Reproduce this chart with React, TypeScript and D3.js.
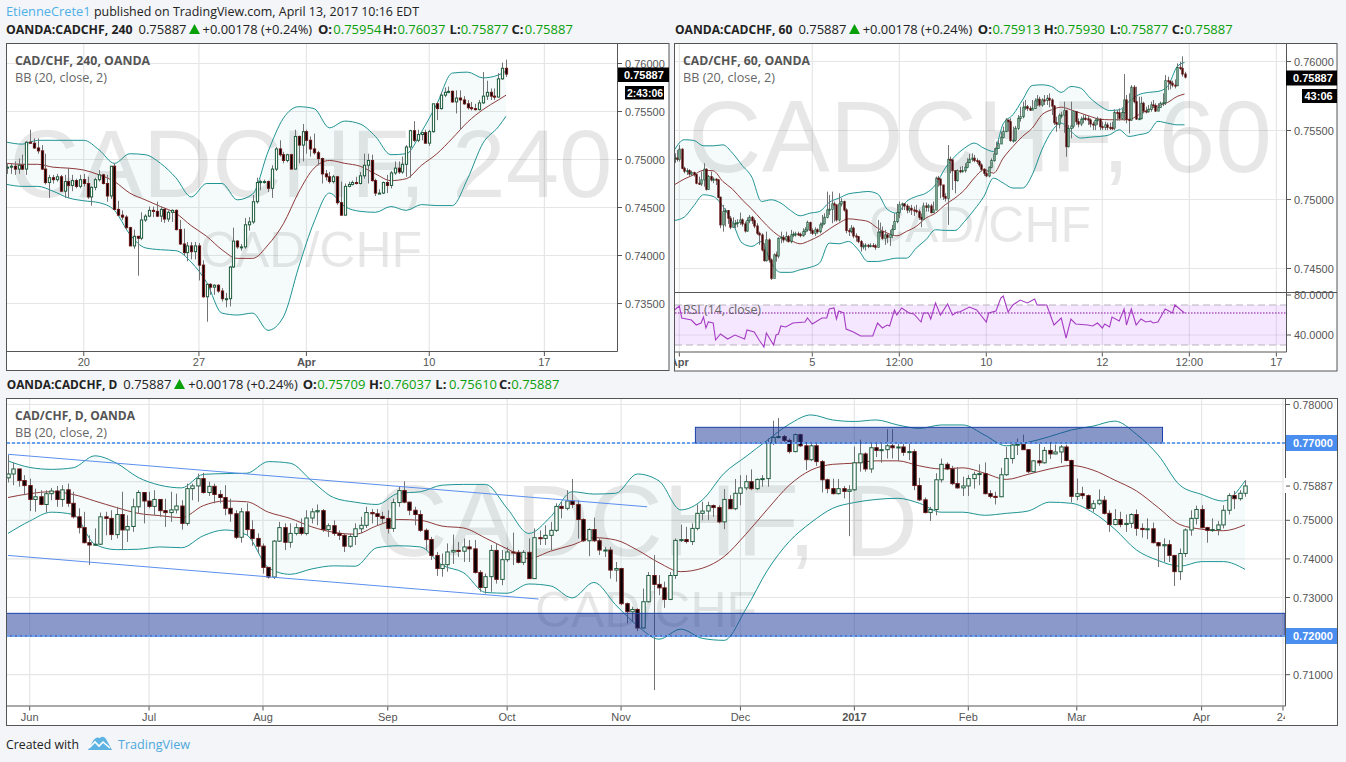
import * as d3 from "d3";

// ---- 240 minute chart, prices in 1e-4
const aOpenFirst = 7491;
const aClose = [7492,7493,7490,7494,7490,7518,7517,7512,7509,7490,7476,7481,7479,7482,7467,7477,7473,7478,7472,7479,7475,7461,7471,7479,7484,7475,7462,7493,7448,7442,7440,7429,7410,7420,7418,7437,7441,7447,7446,7441,7448,7438,7445,7447,7427,7412,7403,7410,7404,7410,7390,7357,7370,7367,7369,7363,7355,7355,7388,7415,7409,7409,7432,7435,7456,7476,7477,7477,7470,7490,7511,7505,7499,7505,7490,7524,7515,7529,7520,7511,7507,7501,7485,7482,7477,7482,7455,7442,7472,7474,7476,7475,7483,7494,7499,7478,7465,7465,7476,7473,7486,7491,7487,7495,7513,7530,7520,7526,7528,7517,7529,7558,7553,7567,7570,7571,7560,7564,7562,7558,7554,7553,7552,7559,7566,7570,7566,7565,7584,7595,7589];
const aHigh = [7496,7496,7498,7501,7505,7519,7531,7522,7522,7515,7506,7484,7484,7485,7484,7484,7491,7484,7480,7484,7485,7482,7472,7481,7489,7485,7484,7493,7496,7457,7447,7442,7430,7427,7420,7445,7443,7451,7451,7456,7451,7450,7447,7448,7448,7437,7428,7414,7414,7414,7413,7395,7370,7371,7370,7370,7366,7361,7389,7429,7416,7412,7439,7440,7463,7481,7479,7479,7478,7494,7513,7520,7508,7506,7506,7531,7525,7537,7531,7524,7527,7509,7502,7489,7487,7484,7483,7477,7475,7477,7478,7482,7487,7506,7506,7505,7480,7469,7477,7484,7488,7498,7498,7503,7515,7531,7540,7531,7529,7531,7531,7558,7560,7570,7575,7576,7572,7572,7572,7566,7562,7560,7558,7562,7591,7582,7574,7574,7590,7601,7604];
const aLow = [7485,7485,7484,7485,7489,7484,7517,7511,7506,7489,7474,7460,7475,7477,7466,7460,7460,7467,7470,7470,7472,7459,7452,7468,7477,7474,7456,7459,7447,7441,7437,7427,7410,7407,7379,7416,7435,7440,7440,7440,7435,7434,7435,7435,7426,7411,7400,7394,7396,7396,7374,7356,7331,7359,7359,7361,7352,7346,7347,7387,7407,7405,7407,7426,7433,7454,7468,7475,7466,7460,7488,7503,7496,7497,7490,7490,7496,7498,7506,7503,7505,7494,7475,7478,7475,7475,7453,7442,7442,7471,7473,7474,7474,7480,7475,7477,7462,7464,7464,7465,7470,7484,7485,7485,7482,7481,7518,7518,7520,7517,7514,7528,7541,7552,7565,7569,7559,7548,7531,7557,7552,7551,7551,7551,7558,7562,7562,7562,7565,7583,7586];
const aUpper = [7518,7516,7520,7520,7520,7520,7510,7496,7506,7505,7496,7481,7461,7475,7475,7458,7464,7508,7543,7555,7553,7533,7540,7537,7524,7505,7506,7529,7558,7590,7591,7585,7588,7592];
const aMid = [7496,7495,7495,7492,7491,7489,7484,7477,7465,7458,7451,7444,7431,7420,7406,7397,7397,7411,7433,7466,7491,7499,7496,7493,7485,7478,7480,7494,7506,7522,7539,7552,7562,7567];
const aLower = [7474,7472,7472,7467,7460,7457,7455,7447,7422,7408,7406,7405,7393,7372,7340,7338,7340,7322,7336,7388,7435,7465,7451,7446,7445,7451,7447,7453,7452,7452,7480,7517,7534,7545];
const aBandIdx = [...d3.range(0, 130, 4), 130];
const aTimeIdx = [20, 50, 78, 110, 140];
const aTimeLabels = ["20", "27", "Apr", "10", "17"];
const aPriceTicks = [0.76, 0.755, 0.75, 0.745, 0.74, 0.735];

// ---- 60 minute chart, prices in 1e-5
const bOpenFirst = 75299;
const bClose = [75300,75292,75364,75226,75205,75209,75185,75195,75180,75118,75113,75142,75219,75074,75166,75142,75147,75142,75016,74816,74912,74920,74864,74799,74823,74828,74833,74852,74823,74772,74847,74871,74847,74808,74755,74743,74635,74557,74707,74562,74429,74598,74591,74719,74726,74707,74731,74695,74743,74748,74751,74748,74738,74767,74780,74833,74775,74755,74780,74767,74816,74828,74871,74924,74929,74968,74961,74852,74968,74985,74924,74775,74767,74792,74736,74731,74695,74659,74664,74668,74664,74666,74664,74654,74763,74767,74719,74743,74726,74743,74784,74840,74905,74961,74968,74953,74924,74936,74924,74920,74912,74871,74857,74953,74944,74953,74905,74924,75154,75147,75105,75021,75009,75291,75287,75209,75137,75209,75202,75209,75234,75267,75291,75299,75282,75275,75250,75219,75190,75171,75234,75282,75330,75371,75403,75451,75492,75576,75564,75427,75430,75516,75588,75600,75668,75672,75660,75648,75660,75714,75726,75685,75721,75718,75733,75721,75677,75557,75547,75607,75612,75643,75383,75515,75532,75636,75564,75547,75581,75588,75585,75576,75547,75540,75571,75581,75528,75523,75540,75523,75520,75518,75631,75628,75588,75631,75721,75581,75576,75813,75709,75583,75586,75697,75641,75636,75653,75685,75681,75641,75668,75697,75701,75861,75854,75842,75829,75825,75957,75950,75909,75887];
const bHigh = [75335,75359,75395,75371,75238,75226,75219,75209,75202,75190,75166,75202,75263,75226,75178,75202,75161,75154,75147,75021,74961,74936,74924,74881,74871,74852,74857,74905,74864,74840,74871,74888,74881,74864,74828,74767,74755,74683,74767,74719,74574,74610,74622,74726,74767,74743,74767,74743,74780,74767,74767,74767,74760,74792,74799,74847,74840,74792,74799,74792,74833,74888,74900,75057,75033,75057,74985,74961,75045,75009,74992,74936,74792,74815,74804,74755,74731,74707,74683,74683,74678,74683,74683,74678,74852,74833,74804,74780,74755,74780,74816,74900,74968,74985,74978,74973,74968,74953,74961,74949,74961,74929,74900,74978,74978,74968,74968,74985,75166,75171,75154,75105,75045,75395,75311,75287,75202,75219,75238,75243,75263,75299,75330,75335,75323,75299,75287,75263,75226,75219,75238,75299,75371,75419,75431,75492,75528,75589,75576,75589,75528,75533,75612,75672,75709,75721,75685,75677,75721,75733,75757,75745,75733,75757,75757,75769,75733,75685,75600,75624,75636,75709,75648,75540,75709,75648,75641,75588,75600,75612,75612,75605,75588,75564,75588,75600,75588,75564,75564,75557,75557,75564,75653,75648,75660,75660,75909,75757,75769,75829,75829,75817,75745,75745,75709,75672,75685,75709,75721,75697,75697,75709,75769,75902,75890,75866,75861,75870,75986,75998,76037,75926];
const bLow = [75265,75275,75275,75219,75190,75178,75171,75173,75166,75110,75105,75098,75093,75064,75069,75130,75118,75105,75009,74792,74767,74804,74823,74784,74799,74792,74799,74816,74804,74760,74765,74828,74823,74792,74743,74671,74623,74550,74550,74543,74417,74502,74550,74574,74683,74688,74695,74688,74683,74726,74731,74736,74726,74731,74743,74767,74751,74743,74736,74751,74755,74792,74816,74864,74888,74828,74840,74840,74840,74949,74912,74755,74736,74755,74719,74695,74683,74623,74639,74630,74647,74654,74654,74635,74659,74731,74707,74671,74683,74664,74719,74780,74828,74864,74924,74924,74900,74905,74888,74881,74900,74852,74799,74857,74912,74912,74900,74912,74924,75093,75009,74997,74985,74816,75190,75069,75045,75130,75190,75195,75195,75226,75267,75275,75270,75258,75234,75202,75171,75161,75161,75226,75275,75323,75371,75403,75444,75492,75492,75419,75412,75419,75503,75564,75588,75648,75641,75641,75648,75660,75677,75672,75672,75685,75685,75668,75612,75540,75491,75515,75588,75484,75310,75378,75443,75515,75540,75523,75532,75552,75571,75540,75523,75503,75503,75540,75503,75503,75503,75503,75503,75503,75503,75571,75571,75576,75571,75552,75479,75571,75697,75576,75576,75581,75624,75624,75629,75636,75672,75634,75653,75668,75677,75685,75793,75798,75813,75805,75829,75938,75890,75877];
const bUpper = [75360,75433,75428,75389,75389,75396,75336,75247,75162,74986,74998,74974,74921,74882,74901,74913,74979,75010,75041,75051,75058,75041,74930,74901,74986,75022,75046,75107,75227,75312,75372,75409,75372,75348,75549,75614,75722,75826,75831,75819,75776,75819,75807,75735,75679,75645,75650,75710,75759,75776,75783,75819,75964,75993];
const bMid = [75107,75148,75179,75211,75208,75131,75075,74998,74930,74853,74781,74728,74703,74679,74703,74737,74785,74829,74860,74853,74841,74793,74757,74737,74769,74805,74865,74901,74962,75010,75070,75155,75215,75191,75300,75384,75457,75517,75614,75650,75669,75650,75626,75602,75582,75578,75578,75578,75614,75650,75679,75703,75747,75764];
const bLower = [74848,74872,74955,75034,75022,74950,74834,74684,74660,74696,74539,74472,74472,74491,74508,74539,74684,74679,74696,74636,74551,74551,74563,74575,74575,74648,74708,74781,74776,74776,74841,74926,75022,75155,75119,75083,75083,75179,75360,75493,75553,75493,75445,75452,75457,75469,75505,75457,75469,75486,75566,75553,75541,75541];
const bBandIdx = [...d3.range(0, 209, 4), 211];
const bTimeIdx = [2, 57, 93, 129, 177, 213, 249];
const bTimeLabels = ["Apr", "5", "12:00", "10", "12", "12:00", "17"];
const bPriceTicks = [0.76, 0.755, 0.75, 0.745];

const rsiIdx = [0,2,3,5,7,9,11,12,13,14,16,17,19,22,25,29,30,33,35,37,38,41,42,43,44,46,49,54,55,57,61,63,64,66,67,68,70,71,74,77,82,84,86,88,89,91,92,94,97,99,102,103,105,106,108,110,113,115,117,118,122,125,129,130,133,135,136,138,140,143,146,149,150,154,157,160,162,164,166,171,173,175,177,178,180,181,184,186,187,189,191,193,195,197,198,200,203,206,207,211];
const rsiValues = [65,69,57,56,55,50,52,58,47,53,52,35,41,36,40,36,45,43,35,28,42,30,40,41,49,48,52,53,57,51,57,57,66,67,56,64,62,46,43,39,39,52,47,50,49,65,60,67,62,61,53,62,62,56,72,60,71,60,63,63,68,65,53,62,64,77,79,63,70,75,72,76,70,70,50,57,37,56,51,50,49,52,47,51,48,58,54,66,50,66,50,56,53,54,52,53,66,62,70,62];

// ---- daily chart, prices in 1e-4
const dOpenFirst = 7610;
const dClose = [7620,7633,7603,7590,7554,7561,7541,7569,7576,7554,7579,7544,7509,7481,7442,7436,7438,7509,7505,7463,7515,7475,7484,7535,7572,7550,7536,7554,7525,7520,7527,7537,7492,7582,7589,7608,7572,7588,7567,7559,7531,7517,7456,7522,7476,7453,7433,7378,7353,7446,7481,7443,7466,7481,7466,7506,7522,7525,7476,7486,7466,7461,7433,7458,7478,7487,7520,7517,7510,7505,7479,7546,7577,7547,7526,7515,7474,7450,7409,7375,7385,7418,7422,7420,7431,7426,7365,7326,7354,7422,7347,7398,7418,7417,7391,7417,7349,7455,7453,7461,7474,7536,7531,7550,7541,7502,7447,7476,7447,7423,7423,7371,7375,7284,7263,7269,7221,7289,7357,7334,7325,7295,7357,7448,7450,7445,7479,7518,7524,7538,7533,7496,7554,7530,7570,7584,7600,7582,7606,7608,7701,7715,7717,7707,7678,7722,7693,7657,7693,7652,7605,7582,7569,7582,7575,7579,7649,7672,7633,7688,7681,7683,7693,7688,7690,7676,7678,7590,7553,7520,7528,7605,7645,7633,7595,7584,7589,7608,7619,7621,7569,7562,7561,7618,7660,7695,7697,7683,7626,7654,7649,7681,7672,7677,7690,7655,7562,7569,7564,7531,7543,7552,7518,7489,7502,7489,7492,7515,7479,7476,7478,7442,7434,7437,7409,7367,7414,7475,7505,7528,7481,7474,7476,7488,7526,7564,7556,7570,7589];
const dHigh = [7669,7650,7633,7617,7608,7582,7578,7578,7584,7589,7591,7595,7574,7531,7522,7461,7479,7520,7522,7526,7535,7574,7513,7556,7578,7572,7574,7578,7555,7556,7574,7569,7552,7595,7595,7621,7623,7600,7595,7578,7591,7556,7526,7532,7544,7500,7466,7440,7379,7449,7496,7492,7492,7492,7505,7526,7531,7541,7529,7492,7500,7474,7466,7466,7492,7509,7535,7529,7529,7522,7526,7556,7587,7601,7548,7535,7526,7479,7457,7418,7414,7440,7463,7444,7453,7449,7449,7371,7362,7436,7440,7423,7431,7468,7423,7423,7453,7479,7474,7487,7496,7544,7548,7578,7607,7552,7505,7479,7507,7453,7431,7431,7392,7377,7287,7276,7272,7323,7366,7410,7358,7341,7366,7453,7489,7483,7492,7541,7548,7548,7541,7539,7581,7565,7607,7617,7617,7632,7608,7617,7712,7758,7765,7721,7712,7725,7724,7703,7699,7699,7656,7608,7608,7607,7589,7591,7691,7709,7676,7699,7699,7699,7736,7736,7699,7699,7699,7684,7610,7559,7535,7622,7660,7650,7641,7638,7613,7617,7626,7645,7650,7578,7574,7636,7690,7703,7712,7722,7684,7656,7699,7690,7703,7696,7695,7696,7657,7608,7587,7567,7552,7580,7563,7526,7529,7522,7515,7518,7528,7492,7505,7494,7444,7453,7449,7410,7427,7479,7526,7538,7539,7483,7505,7498,7539,7570,7576,7578,7604];
const dLow = [7598,7591,7587,7565,7524,7522,7539,7520,7552,7535,7535,7535,7505,7466,7440,7384,7434,7436,7461,7449,7453,7423,7444,7470,7518,7492,7531,7513,7509,7483,7496,7518,7476,7486,7552,7548,7569,7563,7544,7544,7513,7496,7451,7442,7461,7434,7414,7362,7349,7348,7444,7423,7429,7461,7461,7461,7492,7487,7470,7457,7460,7449,7418,7429,7436,7466,7480,7492,7487,7492,7466,7470,7535,7544,7513,7487,7470,7423,7397,7356,7354,7367,7387,7405,7392,7392,7362,7315,7310,7315,7336,7332,7392,7384,7388,7384,7348,7348,7436,7436,7423,7470,7505,7526,7531,7453,7444,7407,7444,7410,7405,7349,7341,7280,7233,7237,7213,7220,7287,7060,7306,7273,7293,7348,7444,7440,7436,7474,7500,7500,7509,7492,7477,7529,7526,7539,7578,7578,7578,7587,7587,7695,7712,7699,7673,7676,7690,7630,7653,7641,7572,7570,7567,7567,7557,7459,7576,7626,7626,7623,7664,7649,7660,7660,7653,7667,7656,7578,7550,7518,7498,7513,7598,7630,7591,7582,7563,7563,7582,7591,7567,7557,7541,7561,7615,7647,7669,7682,7622,7624,7641,7647,7659,7671,7648,7653,7546,7552,7555,7529,7522,7539,7515,7470,7487,7482,7470,7480,7460,7455,7451,7440,7379,7392,7392,7330,7345,7405,7460,7489,7479,7442,7470,7461,7479,7515,7529,7551,7561];
const dUpper = [7654,7637,7632,7636,7667,7648,7611,7591,7584,7619,7621,7622,7652,7648,7602,7559,7547,7541,7570,7574,7591,7593,7593,7531,7466,7509,7574,7568,7570,7620,7602,7527,7553,7622,7665,7708,7749,7773,7760,7756,7760,7747,7738,7747,7747,7721,7693,7702,7717,7734,7744,7757,7723,7669,7591,7567,7550,7602];
const dMid = [7559,7569,7574,7567,7550,7533,7518,7512,7507,7538,7550,7548,7521,7505,7483,7469,7464,7486,7502,7500,7485,7480,7454,7426,7401,7420,7436,7455,7449,7423,7390,7367,7376,7406,7464,7529,7591,7630,7645,7648,7654,7654,7641,7633,7636,7622,7606,7619,7633,7642,7630,7604,7576,7533,7489,7477,7473,7488];
const dLower = [7466,7498,7521,7515,7438,7424,7425,7431,7429,7460,7475,7462,7377,7360,7374,7382,7381,7429,7434,7431,7384,7364,7313,7311,7335,7330,7299,7339,7281,7227,7192,7218,7194,7189,7270,7371,7445,7494,7531,7546,7554,7557,7544,7521,7521,7513,7518,7524,7547,7544,7520,7477,7423,7396,7381,7393,7393,7373];
const dBandIdx = d3.range(0, 229, 4);
const dTimeIdx = [4, 26, 47, 70, 92, 113, 135, 156, 177, 197, 220, 235];
const dTimeLabels = ["Jun", "Jul", "Aug", "Sep", "Oct", "Nov", "Dec", "2017", "Feb", "Mar", "Apr", "24"];
const dGridTicks = [0.78, 0.77, 0.76, 0.75, 0.74, 0.73, 0.72, 0.71];
const dPriceTicks = [0.78, 0.75, 0.74, 0.73, 0.71];

// drawings on the daily chart: [start index, end index, start price, end price]
const channelUpper = [0, 117.8, 0.7671, 0.7535];
const channelLower = [0, 97.8, 0.7409, 0.7296];
const zoneUpper = [126.7, 212.8, 0.77409, 0.77];
const zoneLower = [0.7259, 0.72];

const GREEN = "#0aa00a";
const GRID = "#e6e6e6";
const FRAME = "#555";
const SANS = "'Open Sans', sans-serif";
const AXIS = "'Liberation Sans', Arial, sans-serif";

const buildOpen = (first: number, close: number[]) => close.map((_, i) => (i === 0 ? first : close[i - 1]));

function Candles({ x, y, unit, openFirst, close, high, low, width }: any) {
  const open = buildOpen(openFirst, close);
  return (
    <g>
      {close.map((c: number, i: number) => {
        const cx = Math.round(x(i)) + 0.5;
        const bull = c >= open[i];
        const top = y(Math.max(c, open[i]) * unit);
        const bottom = y(Math.min(c, open[i]) * unit);
        return (
          <g key={i}>
            <line x1={cx} x2={cx} y1={y(high[i] * unit)} y2={y(low[i] * unit)} stroke="#737375" strokeWidth={1} />
            <rect
              x={cx - width / 2}
              y={top}
              width={width}
              height={Math.max(bottom - top, 1)}
              fill={bull ? "#fff" : "#000"}
              stroke={bull ? "#1c5c3c" : "#6b1616"}
              strokeWidth={1}
            />
          </g>
        );
      })}
    </g>
  );
}

function Bands({ x, y, unit, idx, upper, mid, lower }: any) {
  const px = (i: number) => x(idx[i]);
  const area = d3
    .area<number>()
    .x((_, i) => px(i))
    .y0((_, i) => y(lower[i] * unit))
    .y1((v) => y(v * unit))
    .curve(d3.curveMonotoneX);
  const line = d3
    .line<number>()
    .x((_, i) => px(i))
    .y((v) => y(v * unit))
    .curve(d3.curveMonotoneX);
  return (
    <g fill="none">
      <path d={area(upper) || ""} fill="#138484" fillOpacity={0.045} />
      <path d={line(upper) || ""} stroke="#1f9494" strokeWidth={1} />
      <path d={line(lower) || ""} stroke="#1f9494" strokeWidth={1} />
      <path d={line(mid) || ""} stroke="#8f3a3a" strokeWidth={1} />
    </g>
  );
}

function Watermark({ cx, big, bigSize, bigY, small, smallSize, smallY }: any) {
  return (
    <g fontFamily={AXIS} fill="#000" fillOpacity={0.095} textAnchor="middle">
      <text x={cx} y={bigY} fontSize={bigSize}>{big}</text>
      <text x={cx} y={smallY} fontSize={smallSize}>{small}</text>
    </g>
  );
}

function Headline({ y, segments }: any) {
  return (
    <g fontFamily={SANS} fontSize={13} fill="#222">
      {segments.map((s: any, i: number) =>
        s.tri ? (
          <path key={i} d={`M${s.x} ${y} h11 l-5.5 -10 z`} fill="#0aa00a" />
        ) : (
          <text
            key={i}
            x={s.x}
            y={y}
            fontWeight={s.bold ? 700 : 400}
            fill={s.green ? GREEN : "#222"}
            textLength={s.w}
            lengthAdjust={s.w ? "spacingAndGlyphs" : undefined}
          >
            {s.t}
          </text>
        )
      )}
    </g>
  );
}

function PaneTitle({ x, y, title, titleWidth }: any) {
  return (
    <g fontFamily={SANS} fontSize={13}>
      <text x={x} y={y} fontWeight={700} fill="#555" textLength={titleWidth} lengthAdjust="spacingAndGlyphs">{title}</text>
      <text x={x} y={y + 17} fill="#666" textLength={92} lengthAdjust="spacingAndGlyphs">BB (20, close, 2)</text>
    </g>
  );
}

function TimeAxis({ x, idx, labels, top, bottom, clipId, labelY }: any) {
  return (
    <g>
      {idx.map((v: number, i: number) => (
        <line key={i} x1={x(v)} x2={x(v)} y1={bottom} y2={bottom + 4} stroke={FRAME} />
      ))}
      <g clipPath={`url(#${clipId})`} fontFamily={AXIS} fontSize={11} fill="#555" textAnchor="middle">
        {idx.map((v: number, i: number) => (
          <text key={i} x={x(v)} y={labelY} fontWeight={labels[i] === "Apr" && top || labels[i] === "2017" ? 700 : 400}>
            {labels[i]}
          </text>
        ))}
      </g>
    </g>
  );
}

function PriceLabels({ y, ticks, axisX, digits }: any) {
  return (
    <g fontFamily={AXIS} fontSize={11} fill="#555">
      {ticks.map((t: number) => (
        <g key={t}>
          <line x1={axisX} x2={axisX + 4} y1={y(t)} y2={y(t)} stroke={FRAME} />
          <text x={axisX + 7} y={y(t) + 4}>{t.toFixed(digits)}</text>
        </g>
      ))}
    </g>
  );
}

function Tag({ x, y, w, h, text, fill, anchorX, textWidth }: any) {
  return (
    <g>
      <rect x={x} y={y} width={w} height={h} fill={fill} />
      <text
        x={anchorX}
        y={y + h / 2 + 4}
        fontFamily={AXIS}
        fontSize={11}
        fontWeight={700}
        fill="#fff"
        textLength={textWidth}
        lengthAdjust={textWidth ? "spacingAndGlyphs" : undefined}
      >
        {text}
      </text>
    </g>
  );
}

export default function App() {
  // left chart
  const xA = d3.scaleLinear().domain([0, aClose.length - 1]).range([7, 506]);
  const yA = d3.scaleLinear().domain([0.76, 0.735]).range([63.5, 303.5]);
  // right chart
  const xB = d3.scaleLinear().domain([0, bClose.length - 1]).range([674.5, 1184.5]);
  const yB = d3.scaleLinear().domain([0.76, 0.745]).range([61.5, 268.5]);
  const yR = d3.scaleLinear().domain([80, 40]).range([295, 335]);
  // bottom chart
  const xD = d3.scaleLinear().domain([0, dClose.length - 1]).range([8, 1245]);
  const yD = d3.scaleLinear().domain([0.78, 0.71]).range([404.5, 674.7]);

  const rsiLine = d3
    .line<number>()
    .x((_, i) => xB(rsiIdx[i]))
    .y((v) => yR(v));

  return (
    <svg width={1346} height={762} style={{ position: "absolute", left: 0, top: 0, display: "block" }}>
      <rect width={1346} height={762} fill="#f3f5f8" />
      <defs>
        <clipPath id="clipA"><rect x={7} y={44} width={610} height={307} /></clipPath>
        <clipPath id="clipB"><rect x={675} y={44} width={611} height={248} /></clipPath>
        <clipPath id="clipR"><rect x={675} y={293} width={611} height={59} /></clipPath>
        <clipPath id="clipD"><rect x={7} y={399} width={1278} height={307} /></clipPath>
        <clipPath id="timeA"><rect x={7} y={352} width={610} height={18} /></clipPath>
        <clipPath id="timeB"><rect x={675} y={353} width={611} height={18} /></clipPath>
        <clipPath id="timeD"><rect x={7} y={707} width={1278} height={18} /></clipPath>
      </defs>

      {/* page header */}
      <text x={6} y={16} fontFamily={SANS} fontSize={13} fill="#4fb0e8" textLength={84.6} lengthAdjust="spacingAndGlyphs">EtienneCrete1</text>
      <text x={94} y={16} fontFamily={SANS} fontSize={13} fill="#222" textLength={325} lengthAdjust="spacingAndGlyphs">published on TradingView.com, April 13, 2017 10:16 EDT</text>
      <Headline
        y={34}
        segments={[
          { x: 6, t: "OANDA:CADCHF, 240", bold: true, w: 126.5 },
          { x: 138.5, t: "0.75887" },
          { x: 189, tri: true },
          { x: 202.6, t: "+0.00178 (+0.24%)", w: 109.5 },
          { x: 318, t: "O:", bold: true },
          { x: 333.3, t: "0.75954", green: true },
          { x: 383, t: "H:", bold: true },
          { x: 397.4, t: "0.76037", green: true },
          { x: 449.6, t: "L:", bold: true },
          { x: 460.7, t: "0.75877", green: true },
          { x: 511.5, t: "C:", bold: true },
          { x: 524.8, t: "0.75887", green: true },
        ]}
      />
      <Headline
        y={34}
        segments={[
          { x: 675, t: "OANDA:CADCHF, 60", bold: true, w: 117.4 },
          { x: 798.4, t: "0.75887" },
          { x: 849, tri: true },
          { x: 862.7, t: "+0.00178 (+0.24%)", w: 109.5 },
          { x: 977.8, t: "O:", bold: true },
          { x: 992.4, t: "0.75913", green: true },
          { x: 1043.7, t: "H:", bold: true },
          { x: 1057, t: "0.75930", green: true },
          { x: 1109.7, t: "L:", bold: true },
          { x: 1120.4, t: "0.75877", green: true },
          { x: 1171.7, t: "C:", bold: true },
          { x: 1184.6, t: "0.75887", green: true },
        ]}
      />
      <Headline
        y={389}
        segments={[
          { x: 6.7, t: "OANDA:CADCHF, D", bold: true, w: 110.6 },
          { x: 123.3, t: "0.75887" },
          { x: 174, tri: true },
          { x: 188.3, t: "+0.00178 (+0.24%)", w: 109.5 },
          { x: 302.7, t: "O:", bold: true },
          { x: 317.3, t: "0.75709", green: true },
          { x: 369, t: "H:", bold: true },
          { x: 383.3, t: "0.76037", green: true },
          { x: 435.3, t: "L:", bold: true },
          { x: 449, t: "0.75610", green: true },
          { x: 499, t: "C:", bold: true },
          { x: 511.3, t: "0.75887", green: true },
        ]}
      />

      {/* 240 chart */}
      <rect x={6.5} y={43.5} width={662.5} height={327} fill="#fff" stroke={FRAME} />
      <g clipPath="url(#clipA)">
        {aPriceTicks.map((t) => <line key={t} x1={7} x2={617} y1={yA(t)} y2={yA(t)} stroke={GRID} strokeWidth={1.2} />)}
        {aTimeIdx.map((t) => <line key={t} x1={xA(t)} x2={xA(t)} y1={44} y2={351} stroke={GRID} strokeWidth={1.2} />)}
        <Watermark cx={311} big="CADCHF, 240" bigSize={96} bigY={197} small="CAD/CHF" smallSize={50} smallY={267} />
        <Bands x={xA} y={yA} unit={1e-4} idx={aBandIdx} upper={aUpper} mid={aMid} lower={aLower} />
        <Candles x={xA} y={yA} unit={1e-4} openFirst={aOpenFirst} close={aClose} high={aHigh} low={aLow} width={2.2} />
      </g>
      <PaneTitle x={15} y={65} title="CAD/CHF, 240, OANDA" titleWidth={135} />
      <line x1={617.5} x2={617.5} y1={44} y2={351.5} stroke={FRAME} />
      <line x1={7} x2={617.5} y1={351.5} y2={351.5} stroke={FRAME} />
      <PriceLabels y={yA} ticks={aPriceTicks} axisX={618} digits={5} />
      <TimeAxis x={xA} idx={aTimeIdx} labels={aTimeLabels} top={true} bottom={352} clipId="timeA" labelY={366} />
      <Tag x={618} y={67.5} w={51} h={14.5} text="0.75887" fill="#000" anchorX={624} />
      <Tag x={625} y={86} w={39} h={13.5} text="2:43:06" fill="#000" anchorX={627} textWidth={36} />

      {/* 60 chart */}
      <rect x={674.5} y={43.5} width={662.5} height={327.5} fill="#fff" stroke={FRAME} />
      <g clipPath="url(#clipB)">
        {bPriceTicks.map((t) => <line key={t} x1={675} x2={1286} y1={yB(t)} y2={yB(t)} stroke={GRID} strokeWidth={1.2} />)}
        {bTimeIdx.map((t) => <line key={t} x1={xB(t)} x2={xB(t)} y1={44} y2={292} stroke={GRID} strokeWidth={1.2} />)}
        <Watermark cx={980} big="CADCHF, 60" bigSize={102} bigY={172} small="CAD/CHF" smallSize={50} smallY={242} />
        <Bands x={xB} y={yB} unit={1e-5} idx={bBandIdx} upper={bUpper} mid={bMid} lower={bLower} />
        <Candles x={xB} y={yB} unit={1e-5} openFirst={bOpenFirst} close={bClose} high={bHigh} low={bLow} width={1.3} />
      </g>
      <PaneTitle x={683} y={65} title="CAD/CHF, 60, OANDA" titleWidth={127} />
      <g clipPath="url(#clipR)">
        <rect x={675} y={yR(70)} width={611} height={yR(30) - yR(70)} fill="#9915ff" fillOpacity={0.1} />
        {bTimeIdx.map((t) => <line key={t} x1={xB(t)} x2={xB(t)} y1={293} y2={352} stroke="#000" strokeOpacity={0.09} strokeWidth={1.2} />)}
        <line x1={675} x2={1286} y1={yR(40)} y2={yR(40)} stroke="#000" strokeOpacity={0.09} strokeWidth={1.2} />
        <line x1={675} x2={1286} y1={yR(70)} y2={yR(70)} stroke="#b9b3bd" strokeDasharray="7 4" />
        <line x1={675} x2={1286} y1={yR(30)} y2={yR(30)} stroke="#b9b3bd" strokeDasharray="7 4" />
        <line x1={675} x2={1286} y1={yR(62)} y2={yR(62)} stroke="#8a109c" strokeDasharray="1.5 1.5" />
        <path d={rsiLine(rsiValues) || ""} fill="none" stroke="#a63cc4" strokeWidth={1.1} />
        <text x={683} y={314} fontFamily={SANS} fontSize={13} fill="#666" textLength={78} lengthAdjust="spacingAndGlyphs">RSI (14, close)</text>
      </g>
      <line x1={675} x2={1337} y1={292.5} y2={292.5} stroke={FRAME} strokeWidth={1.2} />
      <line x1={1286.5} x2={1286.5} y1={44} y2={352} stroke={FRAME} />
      <line x1={675} x2={1286.5} y1={352} y2={352} stroke={FRAME} />
      <PriceLabels y={yB} ticks={bPriceTicks} axisX={1287} digits={5} />
      <PriceLabels y={yR} ticks={[80, 40]} axisX={1287} digits={4} />
      <TimeAxis x={xB} idx={bTimeIdx} labels={bTimeLabels} top={true} bottom={352.5} clipId="timeB" labelY={366} />
      <Tag x={1286} y={70.5} w={51} h={15} text="0.75887" fill="#000" anchorX={1293} />
      <Tag x={1302} y={89} w={35} h={14} text="43:06" fill="#000" anchorX={1304.5} />

      {/* daily chart */}
      <rect x={6.5} y={398.5} width={1331} height={327} fill="#fff" stroke={FRAME} />
      <g clipPath="url(#clipD)">
        {dGridTicks.map((t) => <line key={t} x1={7} x2={1286} y1={yD(t)} y2={yD(t)} stroke={GRID} strokeWidth={1.2} />)}
        {dTimeIdx.map((t) => <line key={t} x1={xD(t)} x2={xD(t)} y1={399} y2={706} stroke={GRID} strokeWidth={1.2} />)}
        <Watermark cx={646} big="CADCHF, D" bigSize={102} bigY={556} small="CAD/CHF" smallSize={50} smallY={627} />
        <Bands x={xD} y={yD} unit={1e-4} idx={dBandIdx} upper={dUpper} mid={dMid} lower={dLower} />
        <Candles x={xD} y={yD} unit={1e-4} openFirst={dOpenFirst} close={dClose} high={dHigh} low={dLow} width={3.4} />
        {[channelUpper, channelLower].map((c, i) => (
          <line key={i} x1={xD(c[0])} x2={xD(c[1])} y1={yD(c[2])} y2={yD(c[3])} stroke="#5b8fee" strokeWidth={1} />
        ))}
        <rect
          x={xD(zoneUpper[0])}
          y={yD(zoneUpper[2])}
          width={xD(zoneUpper[1]) - xD(zoneUpper[0])}
          height={yD(zoneUpper[3]) - yD(zoneUpper[2])}
          fill="#173496"
          fillOpacity={0.5}
          stroke="#1a3fa8"
        />
        <rect x={0} y={yD(zoneLower[0])} width={1285} height={yD(zoneLower[1]) - yD(zoneLower[0])} fill="#173496" fillOpacity={0.5} stroke="#1a3fa8" />
        {[0.77, 0.72].map((t) => (
          <line key={t} x1={7} x2={1286} y1={yD(t)} y2={yD(t)} stroke="#6aa2f2" strokeWidth={2} strokeDasharray="3 2" />
        ))}
      </g>
      <PaneTitle x={15} y={420} title="CAD/CHF, D, OANDA" titleWidth={120} />
      <line x1={1285.5} x2={1285.5} y1={399} y2={706} stroke={FRAME} />
      <line x1={7} x2={1285.5} y1={706} y2={706} stroke={FRAME} />
      <PriceLabels y={yD} ticks={dPriceTicks} axisX={1286} digits={5} />
      <rect x={1284} y={478} width={52} height={15} fill="#fff" />
      <line x1={1286} x2={1290} y1={yD(0.75887)} y2={yD(0.75887)} stroke={FRAME} />
      <text x={1293} y={yD(0.75887) + 4} fontFamily={AXIS} fontSize={11} fill="#555">0.75887</text>
      <Tag x={1286} y={435} w={51} h={16} text="0.77000" fill="#4a8ef0" anchorX={1293} />
      <Tag x={1286} y={628} w={51} h={16} text="0.72000" fill="#4a8ef0" anchorX={1293} />
      <TimeAxis x={xD} idx={dTimeIdx} labels={dTimeLabels} top={false} bottom={706.5} clipId="timeD" labelY={721} />

      {/* footer */}
      <text x={6} y={749} fontFamily={SANS} fontSize={13} fill="#222" textLength={73} lengthAdjust="spacingAndGlyphs">Created with</text>
      <path d="M88 750 L93 741 Q96 736 100 738 Q103 735 106 739 L112 750 Z" fill="#5fb3e3" />
      <path d="M89 748 L95 742 L99 746 L103 742 L110 748" fill="none" stroke="#fff" strokeWidth={1.6} />
      <text x={118} y={749} fontFamily={SANS} fontSize={13} fill="#4fa8dc" textLength={72} lengthAdjust="spacingAndGlyphs">TradingView</text>
    </svg>
  );
}
